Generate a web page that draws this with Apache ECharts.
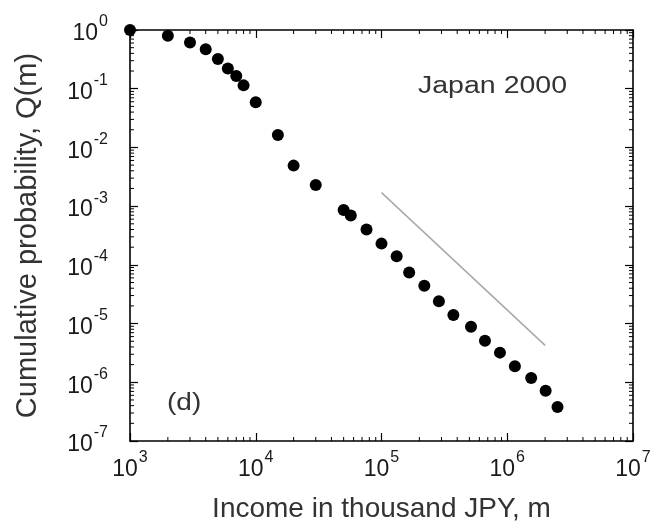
<!DOCTYPE html>
<html>
<head>
<meta charset="utf-8">
<script src="https://cdn.jsdelivr.net/npm/echarts@6/dist/echarts.min.js"></script>
<style>
  html, body { margin: 0; padding: 0; background: #fff; }
  #chart { width: 652px; height: 522px; }
</style>
</head>
<body>
<div id="chart"></div>
<script>
// Income distribution, Japan 2000: cumulative probability Q(m) vs income m
const incomes = [1000, 2000, 3000, 4000, 5000, 6000, 7000, 8000, 10000, 15000,
  20000, 30000, 50000, 57000, 76000, 100000, 132000, 166000, 219000, 286000,
  373000, 515000, 665000, 875000, 1150000, 1550000, 2020000, 2510000];
const cumProb = [1, 0.80, 0.61, 0.47, 0.32, 0.22, 0.165, 0.114, 0.059, 0.0163,
  0.0049, 0.0023, 8.6e-4, 6.9e-4, 4.0e-4, 2.3e-4, 1.4e-4, 7.4e-5, 4.4e-5, 2.4e-5,
  1.4e-5, 8.8e-6, 5.1e-6, 3.2e-6, 1.87e-6, 1.18e-6, 7.2e-7, 3.8e-7];

// Power-law guide, slope -2
const guideIncome = [1e5, 2e6];
const guideProb = [1.7e-3, 4.25e-6];

// Axis ranges (decades)
const xDecades = [1e3, 1e4, 1e5, 1e6, 1e7];
const yDecades = [1e-7, 1e-6, 1e-5, 1e-4, 1e-3, 1e-2, 1e-1, 1];
const minorMultipliers = [2, 3, 4, 5, 6, 7, 8, 9];

const xMin = xDecades[0], xMax = xDecades[xDecades.length - 1];
const yMin = yDecades[0], yMax = yDecades[yDecades.length - 1];

function minorValues(decades) {
  const out = [];
  for (let i = 0; i < decades.length - 1; i++) {
    minorMultipliers.forEach(k => out.push(decades[i] * k));
  }
  return out;
}
const xMinor = minorValues(xDecades);
const yMinor = minorValues(yDecades);

const FONT = "'Liberation Sans', Arial, sans-serif";
const MAJOR_LEN = 8, MINOR_LEN = 4;

// "10" with a raised exponent
function powerLabel(v) {
  const e = Math.round(Math.log10(v));
  return '{a|10}{b|' + (e < 0 ? '-' + (-e) : e) + '}';
}
const labelRich = {
  a: { fontSize: 23, lineHeight: 23, padding: [10, 0, 0, 0], color: '#1a1a1a', fontFamily: FONT },
  b: { fontSize: 16, lineHeight: 16, padding: [0, 0, 14, 1], color: '#1a1a1a', fontFamily: FONT }
};

const axisLine = { show: true, onZero: false, lineStyle: { color: '#000', width: 1.6 } };
const majorTick = { show: true, inside: true, length: MAJOR_LEN, lineStyle: { color: '#000', width: 1.2 } };

const chart = echarts.init(document.getElementById('chart'), null, { renderer: 'canvas' });

const option = {
  animation: false,
  backgroundColor: '#fff',
  grid: { left: 130, right: 19, top: 30, bottom: 81, containLabel: false, outerBoundsMode: 'none' },
  xAxis: [
    {
      type: 'log', logBase: 10, min: xMin, max: xMax, splitNumber: 4,
      position: 'bottom',
      axisLine, axisTick: majorTick, splitLine: { show: false },
      axisLabel: { margin: 12, formatter: powerLabel, rich: labelRich },
      name: 'Income in thousand JPY, m',
      nameLocation: 'middle', nameGap: 54,
      nameTextStyle: { fontSize: 28, color: '#333', fontFamily: FONT }
    },
    {
      type: 'log', logBase: 10, min: xMin, max: xMax, splitNumber: 4,
      position: 'top',
      axisLine, axisTick: majorTick, splitLine: { show: false },
      axisLabel: { show: false }
    }
  ],
  yAxis: [
    {
      type: 'log', logBase: 10, min: yMin, max: yMax, splitNumber: 7,
      position: 'left',
      axisLine, axisTick: majorTick, splitLine: { show: false },
      axisLabel: { margin: 22, formatter: powerLabel, rich: labelRich, padding: [0, 0, 2, 0] },
      name: 'Cumulative probability, Q(m)',
      nameLocation: 'middle', nameGap: 88,
      nameTextStyle: { fontSize: 29, color: '#333', fontFamily: FONT }
    },
    {
      type: 'log', logBase: 10, min: yMin, max: yMax, splitNumber: 7,
      position: 'right',
      axisLine, axisTick: majorTick, splitLine: { show: false },
      axisLabel: { show: false }
    }
  ],
  graphic: [
    {
      type: 'text', x: 418, y: 75, scaleX: 1.24,
      style: { text: 'Japan 2000', fontSize: 23, fill: '#333', fontFamily: FONT }
    },
    {
      type: 'text', x: 167, y: 392, scaleX: 1.22,
      style: { text: '(d)', fontSize: 23, fill: '#333', fontFamily: FONT }
    }
  ],
  series: [
    {
      // logarithmic minor ticks on bottom and top edges
      type: 'custom', silent: true, clip: false, z: 1,
      data: xMinor.map(v => [v, yMin]),
      renderItem(params, api) {
        const v = api.value(0);
        const b = api.coord([v, yMin]);
        const t = api.coord([v, yMax]);
        const style = { stroke: '#000', lineWidth: 1 };
        return {
          type: 'group', children: [
            { type: 'line', shape: { x1: b[0], y1: b[1], x2: b[0], y2: b[1] - MINOR_LEN }, style },
            { type: 'line', shape: { x1: t[0], y1: t[1], x2: t[0], y2: t[1] + MINOR_LEN }, style }
          ]
        };
      }
    },
    {
      // logarithmic minor ticks on left and right edges
      type: 'custom', silent: true, clip: false, z: 1,
      data: yMinor.map(v => [xMin, v]),
      renderItem(params, api) {
        const v = api.value(1);
        const l = api.coord([xMin, v]);
        const r = api.coord([xMax, v]);
        const style = { stroke: '#000', lineWidth: 1 };
        return {
          type: 'group', children: [
            { type: 'line', shape: { x1: l[0], y1: l[1], x2: l[0] + MINOR_LEN, y2: l[1] }, style },
            { type: 'line', shape: { x1: r[0], y1: r[1], x2: r[0] - MINOR_LEN, y2: r[1] }, style }
          ]
        };
      }
    },
    {
      type: 'line', silent: true, z: 2,
      data: guideIncome.map((x, i) => [x, guideProb[i]]),
      symbol: 'none',
      lineStyle: { color: '#a8a8a8', width: 1.5 }
    },
    {
      type: 'scatter', silent: true, clip: false, z: 3,
      data: incomes.map((x, i) => [x, cumProb[i]]),
      symbol: 'circle', symbolSize: 12,
      itemStyle: { color: '#000', opacity: 1 }
    }
  ]
};

chart.setOption(option);
</script>
</body>
</html>
